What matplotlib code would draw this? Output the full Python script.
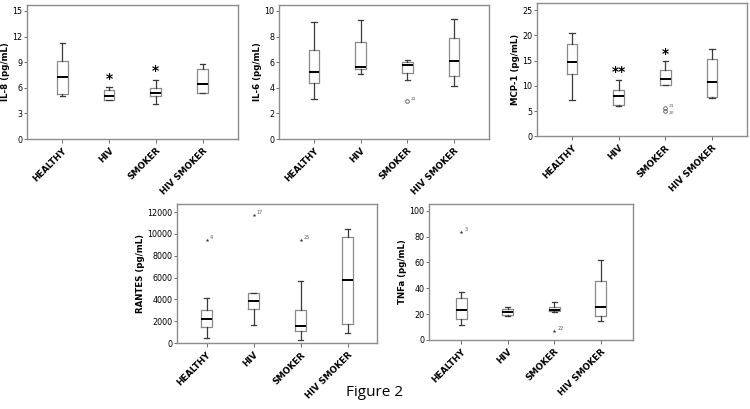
import matplotlib

matplotlib.use("Agg")
import matplotlib.pyplot as plt  # noqa: E402

GROUPS = ["HEALTHY", "HIV", "SMOKER", "HIV SMOKER"]

# five-number summaries: low whisker, Q1, median, Q3, high whisker
IL8_LO = [5.0, 4.6, 4.1, 5.4]
IL8_Q1 = [5.27, 4.6, 5.08, 5.4]
IL8_MED = [7.27, 5.0, 5.4, 6.48]
IL8_Q3 = [9.18, 5.8, 5.98, 8.16]
IL8_HI = [11.25, 6.05, 6.9, 8.83]

IL6_LO = [3.15, 5.05, 4.6, 4.15]
IL6_Q1 = [4.4, 5.45, 5.15, 4.95]
IL6_MED = [5.25, 5.6, 5.8, 6.1]
IL6_Q3 = [6.95, 7.55, 6.0, 7.85]
IL6_HI = [9.1, 9.3, 6.15, 9.4]

MCP_LO = [7.1, 5.9, 10.1, 7.6]
MCP_Q1 = [12.4, 6.2, 10.1, 7.8]
MCP_MED = [14.8, 8.0, 11.3, 10.7]
MCP_Q3 = [18.3, 9.2, 13.1, 15.3]
MCP_HI = [20.5, 11.2, 14.9, 17.3]

RANTES_LO = [450, 1680, 300, 890]
RANTES_Q1 = [1480, 3115, 1130, 1710]
RANTES_MED = [2200, 3850, 1550, 5750]
RANTES_Q3 = [3020, 4580, 3080, 9710]
RANTES_HI = [4100, 4600, 5720, 10410]

TNF_LO = [11.9, 18.7, 21.8, 14.5]
TNF_Q1 = [15.8, 19.2, 22.3, 18.4]
TNF_MED = [23.1, 21.8, 23.1, 25.6]
TNF_Q3 = [32.1, 23.6, 25.6, 45.3]
TNF_HI = [37.3, 25.1, 29.5, 61.7]

# outliers: (group index, value, case label)
IL6_OUT = [(2, 2.95, "22")]
MCP_OUT = [(2, 5.6, "21"), (2, 5.0, "20")]
RANTES_EXT = [(0, 9470, "4"), (1, 11700, "17"), (2, 9400, "25")]
TNF_EXT = [(0, 83.4, "3"), (2, 7.0, "22")]

# significance marks: (group index, y, text)
IL8_SIG = [(1, 7.0, "*"), (2, 8.0, "*")]
MCP_SIG = [(1, 12.8, "**"), (2, 16.3, "*")]

BOX_C = "#8a8a8a"
WHISK_C = "#3a3a3a"
FRAME_C = "#8c8c8c"


def panel(fig, rect, lo, q1, med, q3, hi, ylabel, ylim, yticks, xlim,
          circles=(), stars=(), sig=()):
    ax = fig.add_axes(rect)
    stats = [dict(whislo=a, q1=b, med=c, q3=d, whishi=e, fliers=[])
             for a, b, c, d, e in zip(lo, q1, med, q3, hi)]
    ax.bxp(stats, positions=range(1, 5), widths=0.23, showfliers=False,
           capwidths=0.11,
           boxprops=dict(color=BOX_C, lw=0.9),
           whiskerprops=dict(color=WHISK_C, lw=0.9),
           capprops=dict(color=WHISK_C, lw=0.9),
           medianprops=dict(color="black", lw=1.4))
    for i, (g, v, lab) in enumerate(circles):
        ax.plot(g + 1, v, marker="o", ms=2.6, mfc="none", mec="#555555", mew=0.6)
        ax.text(g + 1.07, v, lab, fontsize=3.2, color="#555555",
                va="bottom" if i == 0 else "top")
    for g, v, lab in stars:
        ax.plot(g + 1, v, marker="*", ms=2.8, color="#333333", mew=0)
        ax.text(g + 1.07, v, lab, fontsize=3.5, color="#555555", va="bottom")
    for g, v, s in sig:
        ax.text(g + 1, v, s, fontsize=10, fontweight="bold", ha="center",
                va="center")
    ax.set_xlim(*xlim)
    ax.set_ylim(*ylim)
    ax.set_yticks(yticks)
    ax.set_xticks(range(1, 5))
    ax.set_xticklabels(GROUPS, rotation=45, ha="right", va="top",
                       rotation_mode="anchor", fontsize=6.3, fontweight="bold")
    ax.tick_params(axis="y", labelsize=5.8, length=2.5, width=0.6, pad=1,
                   color="#555555")
    ax.tick_params(axis="x", length=3, width=0.6, pad=2, color="#555555")
    ax.set_ylabel(ylabel, fontsize=6.2, fontweight="bold", labelpad=1.5)
    for sp in ax.spines.values():
        sp.set_color(FRAME_C)
        sp.set_linewidth(1.0)
    return ax


def main() -> None:
    fig = plt.figure(figsize=(7.5, 4.09), dpi=100)
    panel(fig, [0.036, 0.660, 0.281, 0.328], IL8_LO, IL8_Q1, IL8_MED, IL8_Q3,
          IL8_HI, "IL-8 (pg/mL)", (0, 15.7), [0, 3, 6, 9, 12, 15],
          (0.25, 4.75), sig=IL8_SIG)
    panel(fig, [0.372, 0.660, 0.280, 0.328], IL6_LO, IL6_Q1, IL6_MED, IL6_Q3,
          IL6_HI, "IL-6 (pg/mL)", (0, 10.47), [0, 2, 4, 6, 8, 10],
          (0.25, 4.75), circles=IL6_OUT)
    panel(fig, [0.716, 0.667, 0.280, 0.325], MCP_LO, MCP_Q1, MCP_MED, MCP_Q3,
          MCP_HI, "MCP-1 (pg/mL)", (0, 26.4), [0, 5, 10, 15, 20, 25],
          (0.25, 4.75), circles=MCP_OUT, sig=MCP_SIG)
    panel(fig, [0.236, 0.161, 0.267, 0.340], RANTES_LO, RANTES_Q1, RANTES_MED,
          RANTES_Q3, RANTES_HI, "RANTES (pg/mL)", (0, 12730),
          [0, 2000, 4000, 6000, 8000, 10000, 12000], (0.37, 4.63),
          stars=RANTES_EXT)
    panel(fig, [0.572, 0.169, 0.272, 0.333], TNF_LO, TNF_Q1, TNF_MED, TNF_Q3,
          TNF_HI, "TNFa (pg/mL)", (0, 105.4), [0, 20, 40, 60, 80, 100],
          (0.3, 4.7), stars=TNF_EXT)
    fig.text(0.5, 0.04, "Figure 2", ha="center", va="center", fontsize=11,
             family="Open Sans")
    fig.savefig("out.png", dpi=100)


if __name__ == "__main__":
    main()
